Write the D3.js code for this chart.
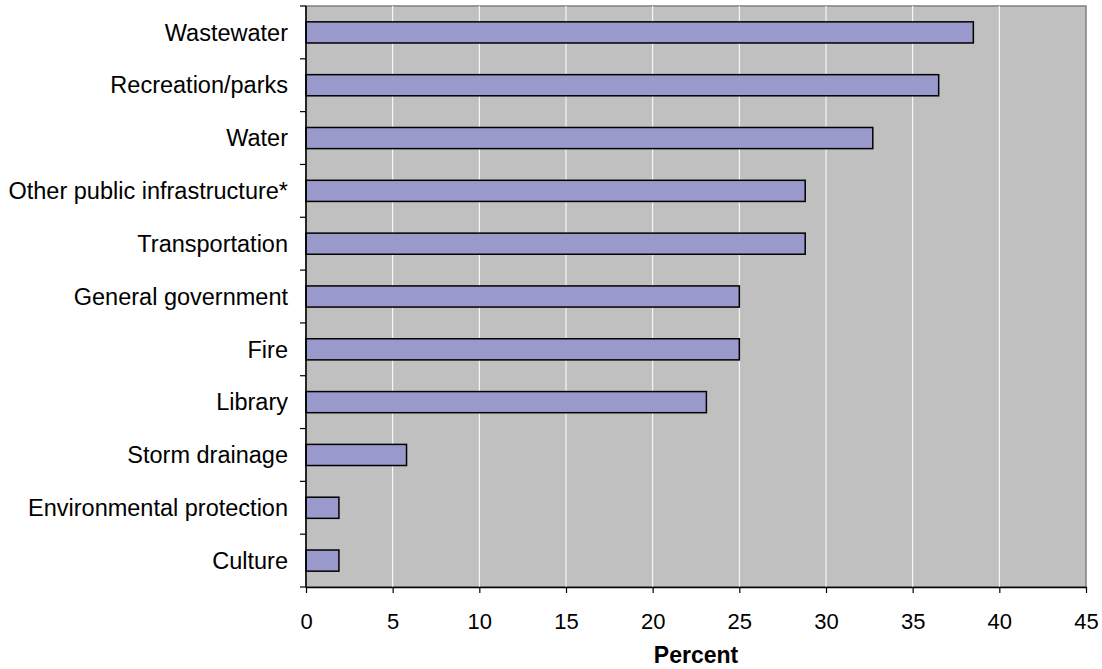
<!DOCTYPE html>
<html>
<head>
<meta charset="utf-8">
<script src="https://cdn.jsdelivr.net/npm/d3@7"></script>
<style>
  html, body { margin: 0; padding: 0; background: #fff; }
  svg { display: block; font-family: Arial, "Liberation Sans", sans-serif; }
</style>
</head>
<body>
<svg id="chart" width="1102" height="669"></svg>
<script>
// Categories, top to bottom
const categories = [
  "Wastewater", "Recreation/parks", "Water", "Other public infrastructure*",
  "Transportation", "General government", "Fire", "Library",
  "Storm drainage", "Environmental protection", "Culture"
];
// Share of respondents, percent
const values = [38.5, 36.5, 32.7, 28.8, 28.8, 25.0, 25.0, 23.1, 5.8, 1.9, 1.9];
const xTicks = [0, 5, 10, 15, 20, 25, 30, 35, 40, 45];
const xTitle = "Percent";

const margin = { top: 6, right: 16, bottom: 82, left: 306 };
const W = 1102, H = 669;
const iw = W - margin.left - margin.right;
const ih = H - margin.top - margin.bottom;

const svg = d3.select("#chart");
const g = svg.append("g").attr("transform", `translate(${margin.left},${margin.top})`);

const x = d3.scaleLinear().domain([0, 45]).range([0, iw]);
const y = d3.scaleBand().domain(categories).range([0, ih]).paddingInner(0.6).paddingOuter(0.3);
const band = d3.scaleBand().domain(categories).range([0, ih]);

// plot background
g.append("rect").attr("x", 0).attr("y", 0).attr("width", iw).attr("height", ih)
  .attr("fill", "#c0c0c0").attr("stroke", "#808080").attr("stroke-width", 1.5);

// vertical gridlines
g.selectAll("line.grid").data(xTicks.slice(1, -1)).enter().append("line")
  .attr("class", "grid")
  .attr("x1", d => x(d)).attr("x2", d => x(d))
  .attr("y1", 0).attr("y2", ih)
  .attr("stroke", "#ffffff").attr("stroke-width", 1);

// bars
g.selectAll("rect.bar").data(categories).enter().append("rect")
  .attr("class", "bar")
  .attr("x", x(0))
  .attr("y", d => y(d))
  .attr("width", (d, i) => x(values[i]) - x(0))
  .attr("height", y.bandwidth())
  .attr("fill", "#9999cc")
  .attr("stroke", "#000").attr("stroke-width", 1.5);

// x axis
const xAxis = g.append("g").attr("transform", `translate(0,${ih})`)
  .call(d3.axisBottom(x).tickValues(xTicks).tickSize(6).tickSizeOuter(0).tickPadding(20));
xAxis.select(".domain").attr("stroke", "#000").attr("stroke-width", 1.5);
xAxis.selectAll(".tick line").attr("stroke", "#000").attr("stroke-width", 1.2);
xAxis.selectAll(".tick text").attr("font-size", 22).attr("fill", "#000")
  .style("font-family", "Arial, 'Liberation Sans', sans-serif");

// y axis: line, ticks at category boundaries, labels at centres
g.append("line").attr("x1", 0).attr("x2", 0).attr("y1", 0).attr("y2", ih)
  .attr("stroke", "#000").attr("stroke-width", 1.5);
const boundaries = categories.map(d => band(d)).concat([ih]);
g.selectAll("line.ytick").data(boundaries).enter().append("line")
  .attr("class", "ytick")
  .attr("x1", -6).attr("x2", 0)
  .attr("y1", d => d).attr("y2", d => d)
  .attr("stroke", "#000").attr("stroke-width", 1.2);
g.selectAll("text.ylabel").data(categories).enter().append("text")
  .attr("class", "ylabel")
  .attr("x", -18)
  .attr("y", d => band(d) + band.bandwidth() / 2)
  .attr("dy", "0.35em")
  .attr("text-anchor", "end")
  .attr("font-size", 23.5)
  .attr("fill", "#000")
  .text(d => d);

// x axis title
svg.append("text")
  .attr("x", margin.left + x(22.5))
  .attr("y", 663)
  .attr("text-anchor", "middle")
  .attr("font-size", 23)
  .attr("font-weight", "bold")
  .text(xTitle);
</script>
</body>
</html>
